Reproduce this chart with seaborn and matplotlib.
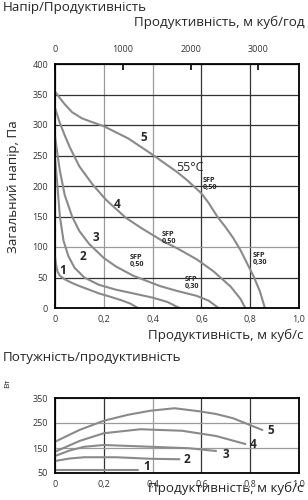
import numpy as np
import pandas as pd
import matplotlib
matplotlib.use("Agg")
import matplotlib.pyplot as plt
import seaborn as sns

# ---- data: pressure curves (x in m3/s, y in Pa) ----
c1_x = [0, 0.004, 0.01, 0.02, 0.04, 0.07, 0.10, 0.14, 0.18, 0.23, 0.27, 0.31, 0.34]
c1_y = [85, 72, 60, 53, 47, 41, 36, 30, 24, 18, 13, 7, 0]
c2_x = [0, 0.005, 0.01, 0.02, 0.035, 0.055, 0.08, 0.12, 0.18, 0.25, 0.32, 0.40, 0.46, 0.51]
c2_y = [245, 225, 200, 150, 110, 85, 66, 50, 38, 30, 24, 17, 10, 0]
c3_x = [0, 0.01, 0.02, 0.04, 0.07, 0.10, 0.14, 0.20, 0.25, 0.32, 0.43, 0.50, 0.58, 0.63, 0.67]
c3_y = [282, 252, 225, 185, 150, 126, 105, 82, 68, 53, 36, 28, 20, 12, 0]
c4_x = [0, 0.02, 0.04, 0.06, 0.10, 0.155, 0.21, 0.29, 0.35, 0.44, 0.50, 0.58, 0.65, 0.72, 0.76, 0.78]
c4_y = [328, 303, 283, 264, 232, 202, 177, 148, 132, 110, 98, 80, 60, 35, 15, 0]
c5_x = [0, 0.02, 0.04, 0.07, 0.11, 0.15, 0.20, 0.30, 0.39, 0.50, 0.54, 0.60, 0.63, 0.665, 0.70, 0.73, 0.76, 0.78, 0.815, 0.84, 0.86]
c5_y = [355, 344, 334, 321, 311, 305, 298, 278, 254, 223, 210, 188, 172, 150, 132, 115, 95, 79, 51, 27, 0]

# ---- data: power curves (x in m3/s, y in W) ----
p1_x = [0, 0.34]
p1_y = [62, 62]
p2_x = [0, 0.06, 0.12, 0.25, 0.39, 0.51]
p2_y = [98, 108, 113, 113, 107, 105]
p3_x = [0, 0.06, 0.12, 0.20, 0.39, 0.55, 0.66]
p3_y = [118, 140, 155, 162, 155, 149, 138]
p4_x = [0, 0.10, 0.20, 0.35, 0.52, 0.66, 0.78]
p4_y = [135, 178, 209, 225, 219, 198, 166]
p5_x = [0, 0.10, 0.20, 0.30, 0.39, 0.49, 0.59, 0.66, 0.73, 0.85]
p5_y = [175, 222, 259, 283, 299, 309, 297, 286, 269, 222]

curve_names = ["1", "2", "3", "4", "5"]
x_ticks = [0, 0.2, 0.4, 0.6, 0.8, 1.0]
x_ticklabels = ["0", "0,2", "0,4", "0,6", "0,8", "1,0"]
p_ticks = [0, 50, 100, 150, 200, 250, 300, 350, 400]
w_ticks = [50, 150, 250, 350]
top_ticks = [0, 1000, 2000, 3000]

# label positions (x, y) for curve numbers
num_pos_top = [(0.033, 61), (0.114, 84), (0.167, 115), (0.253, 170), (0.363, 279)]
num_pos_bot = [(0.375, 78), (0.54, 105), (0.70, 122), (0.81, 162), (0.885, 222)]
sfp_texts = ["SFP\n0,50", "SFP\n0,50", "SFP\n0,50", "SFP\n0,30", "SFP\n0,30"]
sfp_pos = [(0.604, 203), (0.437, 115), (0.306, 77), (0.53, 41), (0.81, 80)]

sns.set_style("white")
plt.rcParams['font.family'] = ['Open Sans', 'DejaVu Sans']

fig = plt.figure(figsize=(3.08, 5.0), dpi=100)
ax = fig.add_axes([55/308, 1-308/500, 244/308, 244/500])
ax2 = fig.add_axes([55/308, 1-473/500, 244/308, 75/500])

line_col = "#8a8a8a"
top = pd.concat([pd.DataFrame({"x": xs, "y": ys, "c": n}) for xs, ys, n in
                 zip([c1_x, c2_x, c3_x, c4_x, c5_x], [c1_y, c2_y, c3_y, c4_y, c5_y], curve_names)])
bot = pd.concat([pd.DataFrame({"x": xs, "y": ys, "c": n}) for xs, ys, n in
                 zip([p1_x, p2_x, p3_x, p4_x, p5_x], [p1_y, p2_y, p3_y, p4_y, p5_y], curve_names)])

pal = {n: line_col for n in curve_names}
sns.lineplot(data=top, x="x", y="y", hue="c", palette=pal, sort=False, estimator=None,
             lw=1.5, legend=False, ax=ax)
sns.lineplot(data=bot, x="x", y="y", hue="c", palette=pal, sort=False, estimator=None,
             lw=1.5, legend=False, ax=ax2)

tick_col = "#333333"
for a in (ax, ax2):
    a.set_xlim(0, 1.0)
    a.set_xticks(x_ticks)
    a.set_xticklabels(x_ticklabels)
    a.tick_params(length=0, labelsize=6.5, colors=tick_col)
    a.tick_params(axis='y', pad=5)
    a.tick_params(axis='x', pad=5)
    a.set_xlabel("")
    a.set_ylabel("")
    for s in a.spines.values():
        s.set_color("black")
        s.set_linewidth(1.3)
    a.grid(True, lw=0.9)
    a.set_axisbelow(True)

ax.set_ylim(0, 400)
ax.set_yticks(p_ticks)
ax2.set_ylim(50, 350)
ax2.set_yticks(w_ticks)

# grid colours
dark, light = "#333333", "#9a9a9a"
for v, gl in zip(x_ticks, ax.get_xgridlines()):
    gl.set_color(light if v in (0.2, 0.4) else dark)
for v, gl in zip(p_ticks, ax.get_ygridlines()):
    gl.set_color(light if v == 100 else dark)
for v, gl in zip(x_ticks, ax2.get_xgridlines()):
    gl.set_color(light if v == 0.4 else dark)
for v, gl in zip(w_ticks, ax2.get_ygridlines()):
    gl.set_color(light)

# secondary top axis in m3/h
sec = ax.secondary_xaxis('top', functions=(lambda x: x * 3600, lambda v: v / 3600))
sec.set_xticks(top_ticks)
sec.tick_params(direction='in', length=4, width=1.2, color='black', labelsize=6.5,
                labelcolor=tick_col, pad=7)
sec.spines['top'].set_visible(False)

for n, (px, py) in zip(curve_names, num_pos_top):
    ax.text(px, py, n, fontsize=8.5, fontweight='bold', ha='center', va='center')
for n, (px, py) in zip(curve_names, num_pos_bot):
    ax2.text(px, py, n, fontsize=8.5, fontweight='bold', ha='center', va='center')
for t, (px, py) in zip(sfp_texts, sfp_pos):
    ax.text(px, py, t, fontsize=5.2, fontweight='bold', ha='left', va='center', linespacing=0.95)
ax.text(0.555, 231, "55°C", fontsize=9, ha='center', va='center')

fs = 9.6
fig.text(3/308, 1-8/500, "Напір/Продуктивність", fontsize=fs, ha='left', va='center')
fig.text(305/308, 1-22/500, "Продуктивність, м куб/год", fontsize=fs, ha='right', va='center')
fig.text(303/308, 1-335/500, "Продуктивність, м куб/с", fontsize=fs, ha='right', va='center')
fig.text(14/308, 1-187/500, "Загальний напір, Па", fontsize=fs, rotation=90, ha='center', va='center')
fig.text(3/308, 1-357/500, "Потужність/продуктивність", fontsize=fs, ha='left', va='center')
fig.text(8/308, 1-383/500, "Вт", fontsize=6, rotation=90, ha='center', va='center')
fig.text(303/308, 1-488/500, "Продуктивність, м куб/с", fontsize=fs, ha='right', va='center')

fig.savefig("out.png", dpi=100)
